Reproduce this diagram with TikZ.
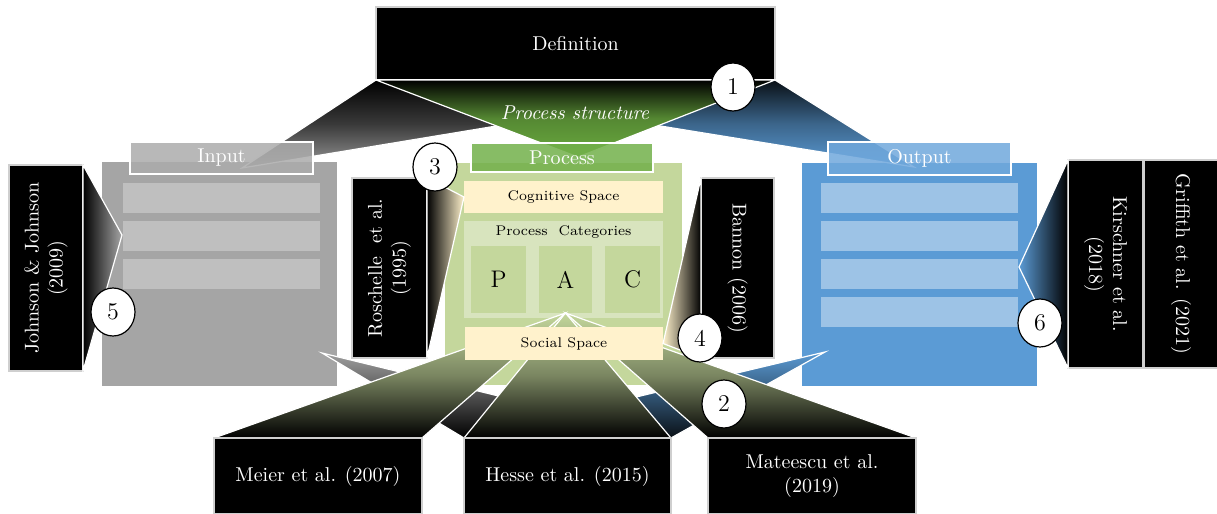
\documentclass[tikz,border=0pt]{standalone}
\usetikzlibrary{shapes.geometric}
\definecolor{ingray}{HTML}{A5A5A5}
\definecolor{inbar}{HTML}{BFBFBF}
\definecolor{intit}{HTML}{ABABAB}
\definecolor{outblue}{HTML}{5B9BD5}
\definecolor{outbar}{HTML}{9DC3E6}
\definecolor{outtit}{HTML}{70A8DC}
\definecolor{procg}{HTML}{C4D79C}
\definecolor{catg}{HTML}{D8E4BE}
\definecolor{cream}{HTML}{FFF2CC}
\definecolor{titg}{HTML}{72B04A}
\definecolor{fung}{HTML}{6AAA3F}
\definecolor{edgegray}{HTML}{CFCFCF}
\tikzset{
  rbox/.style={rectangle, inner sep=0pt, outer sep=0pt},
  blk/.style={rbox, fill=black, draw=edgegray, line width=0.6pt},
  funnel/.style={draw=white, line width=0.6pt},
  num/.style={ellipse, draw=black, fill=white, line width=0.6pt, minimum width=22pt, minimum height=24pt, inner sep=0pt, font=\large},
  ttl/.style={rbox, draw=white, line width=0.6pt, fill opacity=0.85, text opacity=1, text=white},
  wtxt/.style={text=white, align=center, inner sep=0pt},
  small/.style={font=\fontsize{7}{8}\selectfont},
}
\begin{document}
\begin{tikzpicture}[x=0.5pt,y=-0.5pt]
\useasboundingbox (0,0) rectangle (1217,514);
\clip (0,0) rectangle (1217,514);

% apex coordinates
\coordinate (apIn) at (242,168);
\coordinate (apProc) at (578,157);
\coordinate (apOut) at (914,167);
\coordinate (apJ) at (122,235);
\coordinate (apK) at (1019,267);
\coordinate (apInB) at (322,353);
\coordinate (apOutB) at (825,352);

% Input block
\node[rbox, fill=ingray, draw=white, line width=0.6pt, minimum width=118.5pt, minimum height=113pt] (inbox) at (219.5,274) {};
\foreach \i/\y in {1/198,2/236,3/274}
  \node[rbox, fill=inbar, minimum width=98.5pt, minimum height=15pt] (inbar\i) at (221.5,\y) {};

% Output block
\node[rbox, fill=outblue, draw=white, line width=0.6pt, minimum width=118.5pt, minimum height=112.5pt] (outbox) at (919.5,274.5) {};
\foreach \i/\y in {1/198,2/236,3/274,4/312}
  \node[rbox, fill=outbar, minimum width=98.5pt, minimum height=15pt] (outbar\i) at (919.5,\y) {};

% Process block
\node[rbox, fill=procg, minimum width=118.5pt, minimum height=111pt] (procbox) at (563.5,274) {};
\node[rbox, fill=catg, minimum width=99.5pt, minimum height=48.5pt] (cat) at (563.5,269.5) {};
\node[small, inner sep=0pt] (catlbl) at (563.5,232) {Process\ \ Categories};
\node[rbox, fill=procg, minimum width=27.5pt, minimum height=33.5pt, font=\large] (P) at (498.5,279.5) {P};
\node[rbox, fill=procg, minimum width=26.5pt, minimum height=33.5pt, font=\large] (A) at (565.5,279.5) {A};
\node[rbox, fill=procg, minimum width=27.5pt, minimum height=33.5pt, font=\large] (C) at (632.5,279.5) {C};

% Johnson
\node[blk, minimum width=37pt, minimum height=103pt] (johnson) at (46,268) {};
\node[wtxt, rotate=90] (johnsontxt) at (46,268) {Johnson \& Johnson\\(2009)};
\draw[funnel, left color=black, right color=ingray] (johnson.north east) -- (apJ) -- (johnson.south east) -- cycle;

% Kirschner / Griffith
\node[blk, minimum width=37.5pt, minimum height=104pt] (kirsch) at (1105.5,264) {};
\node[wtxt, rotate=-90] (kirschtxt) at (1105.5,264) {Kirschner et al.\\(2018)};
\node[blk, minimum width=37pt, minimum height=104pt] (griff) at (1181,264) {};
\node[wtxt, rotate=-90] (grifftxt) at (1181,264) {Griffith et al. (2021)};
\draw[funnel, left color=outblue, right color=black] (kirsch.north west) -- (apK) -- (kirsch.south west) -- cycle;

% bottom boxes (positions first, drawn later on top)
\path (318,476) node[rbox, minimum width=104pt, minimum height=38pt] (meier) {};
\path (567.5,476) node[rbox, minimum width=103.5pt, minimum height=38pt] (hesse) {};
\path (812,476) node[rbox, minimum width=104pt, minimum height=38pt] (mat) {};

% gray / blue funnels to Hesse
\draw[funnel, top color=gray!75, bottom color=black] (apInB) -- (hesse.north east) -- (hesse.north west) -- cycle;
\draw[funnel, top color=outblue, bottom color=black!90!outblue] (apOutB) -- (hesse.north west) -- (hesse.north east) -- cycle;

% green funnels from A
\draw[funnel, top color=procg, bottom color=black, middle color=procg!62!black] (A.south) -- (meier.north west) -- (meier.north east) -- cycle;
\draw[funnel, top color=procg, bottom color=black, middle color=procg!62!black] (A.south) -- (mat.north west) -- (mat.north east) -- cycle;
\draw[funnel, top color=procg, bottom color=black, middle color=procg!62!black] (A.south) -- (hesse.north west) -- (hesse.north east) -- cycle;

% cognitive / social
\node[rbox, fill=cream, small, minimum width=99.5pt, minimum height=16pt] (cog) at (563.5,197) {Cognitive Space};
\node[rbox, fill=cream, small, minimum width=99pt, minimum height=16.5pt] (soc) at (564,343.5) {Social Space};

% Roschelle
\node[blk, minimum width=37.5pt, minimum height=90pt] (rosch) at (389.5,268) {};
\node[wtxt, rotate=90] (roschtxt) at (389.5,268) {Roschelle\ \ et al.\\(1995)};
\draw[funnel, left color=black, right color=cream] (rosch.north east) -- (cog.west) -- (rosch.south east) -- cycle;

% Bannon
\node[blk, minimum width=36.5pt, minimum height=90pt] (bannon) at (737.5,268) {};
\node[wtxt, rotate=-90] (bannontxt) at (737.5,268) {Bannon (2006)};
\draw[funnel, left color=cream, right color=black] (bannon.north west) -- (soc.east) -- (bannon.south west) -- cycle;

% Definition and its funnels
\node[blk, minimum width=199.5pt, minimum height=36.5pt, text=white] (def) at (575.5,43.5) {Definition};
\draw[funnel, top color=black, bottom color=gray!80, middle color=gray!45!black] (def.south west) -- (def.south east) -- (apIn) -- cycle;
\draw[funnel, top color=black!90!outblue, bottom color=outblue, middle color=outblue!65!black] (def.south west) -- (def.south east) -- (apOut) -- cycle;
\draw[funnel, top color=black, bottom color=fung, middle color=fung!80!black] (def.south west) -- (def.south east) -- (apProc) -- cycle;
\node[text=white, font=\itshape, inner sep=0pt] (pstruct) at (575,113) {Process structure};

% titles
\node[ttl, fill=intit, minimum width=91.5pt, minimum height=16pt] (intitle) at (221.5,158) {Input};
\node[ttl, fill=outtit, minimum width=91.5pt, minimum height=16.5pt] (outtitle) at (919.5,158.5) {Output};
\node[ttl, fill=titg, minimum width=91pt, minimum height=14.5pt] (proctitle) at (562,157.5) {Process};

% bottom boxes drawn
\node[blk, minimum width=104pt, minimum height=38pt, text=white] (meierbox) at (318,476) {Meier et al. (2007)};
\node[blk, minimum width=103.5pt, minimum height=38pt, text=white] (hessebox) at (567.5,476) {Hesse et al. (2015)};
\node[blk, minimum width=104pt, minimum height=38pt, text=white, align=center] (matbox) at (812,476) {Mateescu et al.\\(2019)};

% numbered markers
\node[num] (n1) at (733,87) {1};
\node[num] (n2) at (724,404) {2};
\node[num] (n3) at (435,167) {3};
\node[num] (n4) at (700,338) {4};
\node[num] (n5) at (113,312) {5};
\node[num] (n6) at (1040,323) {6};
\end{tikzpicture}
\end{document}
